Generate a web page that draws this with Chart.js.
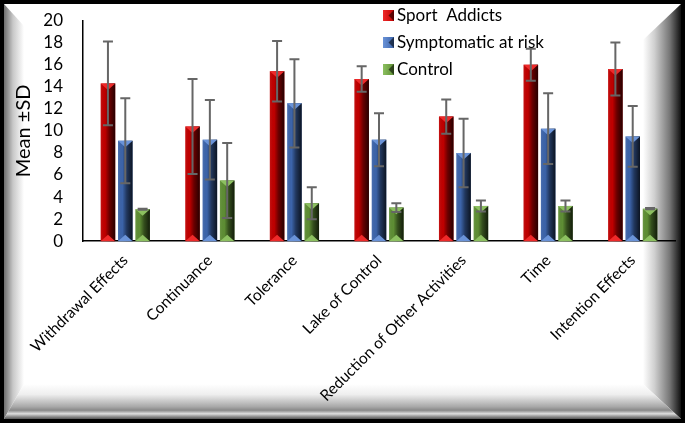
<!DOCTYPE html>
<html>
<head>
<meta charset="utf-8">
<script src="https://cdn.jsdelivr.net/npm/chart.js@4.4.0/dist/chart.umd.min.js"></script>
<style>
  body { margin:0; background:#000; }
  #wrap { position:relative; width:685px; height:423px; background:#000; overflow:hidden; }
  #frame { position:absolute; left:4px; top:4px; width:677px; height:415px; background:#fff; overflow:hidden; }
  .bev { position:absolute; }
  #bl { left:0; top:0; width:20px; height:100%;
        clip-path: polygon(0 0, 20px 22px, 20px calc(100% - 35px), 0 100%);
        background: linear-gradient(to right, #6e6e6e, #c8c8c8 45%, #fff); }
  #br { right:0; top:0; width:38px; height:100%;
        clip-path: polygon(100% 0, 100% 100%, 0 calc(100% - 35px), 0 36px);
        background: linear-gradient(to right, #fff, #d0d0d0 30%, #777 70%, #111); }
  #bb { left:0; bottom:0; width:100%; height:35px;
        clip-path: polygon(0 100%, 20px 0, calc(100% - 38px) 0, 100% 100%);
        background: linear-gradient(to bottom, #fff, #eee 30%, #a8a8a8 65%, #888 75%, #ddd 85%, #999 92%, #555); }
  canvas { position:absolute; left:0; top:0; }
</style>
</head>
<body>
<div id="wrap">
  <div id="frame">
    <div class="bev" id="bl"></div>
    <div class="bev" id="br"></div>
    <div class="bev" id="bb"></div>
  </div>
  <canvas id="chart" width="685" height="423"></canvas>
</div>
<script>
// DATA
let categories = ["Withdrawal Effects", "Continuance", "Tolerance", "Lake of Control",
                  "Reduction of Other Activities", "Time", "Intention Effects"];
let sport = [14.3, 10.4, 15.4, 14.7, 11.3, 16.0, 15.6];
let sportSd = [3.8, 4.3, 2.75, 1.15, 1.55, 1.45, 2.4];
let symptomatic = [9.1, 9.2, 12.5, 9.2, 8.0, 10.2, 9.5];
let symptomaticSd = [3.85, 3.6, 4.0, 2.4, 3.1, 3.2, 2.75];
let control = [2.9, 5.5, 3.45, 3.05, 3.2, 3.2, 2.95];
let controlSd = [0.05, 3.4, 1.45, 0.4, 0.5, 0.5, 0.05];
let yTicks = [0, 2, 4, 6, 8, 10, 12, 14, 16, 18, 20];

let sds = [sportSd, symptomaticSd, controlSd];
let lights = ["#ee2a2a", "#6a93d8", "#8cc060"];

const FONT = "Lato, 'Open Sans', sans-serif";

// 3D bar shading + error bars
const barStyle = {
  id: "barStyle",
  afterDatasetsDraw(chart){
    const c = chart.ctx;
    const y = chart.scales.y;
    chart.data.datasets.forEach((ds, d)=>{
      const meta = chart.getDatasetMeta(d);
      meta.data.forEach(el=>{
        const l = el.x - el.width/2, r = el.x + el.width/2;
        const g = c.createLinearGradient(l, 0, r, 0);
        g.addColorStop(0, "rgba(255,255,255,0.08)");
        g.addColorStop(0.3, "rgba(0,0,0,0)");
        g.addColorStop(0.6, "rgba(0,0,0,0.45)");
        g.addColorStop(1, "rgba(0,0,0,0.8)");
        c.save();
        c.fillStyle = g;
        c.fillRect(l, el.y, el.width, el.base - el.y);
        const t = Math.min(el.width*0.45, (el.base - el.y)/2);
        c.fillStyle = lights[d];
        c.beginPath();
        c.moveTo(l, el.y); c.lineTo(r, el.y); c.lineTo(el.x, el.y + t); c.closePath();
        c.fill();
        c.beginPath();
        c.moveTo(l, el.base); c.lineTo(r, el.base); c.lineTo(el.x, el.base - t); c.closePath();
        c.fill();
        c.restore();
      });
    });
    // error bars
    c.save();
    c.strokeStyle = "#666";
    c.lineWidth = 2;
    chart.data.datasets.forEach((ds, d)=>{
      const meta = chart.getDatasetMeta(d);
      meta.data.forEach((el, i)=>{
        const v = ds.data[i], s = sds[d][i];
        const top = y.getPixelForValue(v + s), bot = y.getPixelForValue(v - s);
        c.beginPath();
        c.moveTo(el.x, top); c.lineTo(el.x, bot);
        c.moveTo(el.x - 5, top); c.lineTo(el.x + 5, top);
        c.moveTo(el.x - 5, bot); c.lineTo(el.x + 5, bot);
        c.stroke();
      });
    });
    c.restore();
  }
};

// legend inside the plot
const legendBox = {
  id: "legendBox",
  afterDraw(chart){
    const c = chart.ctx;
    c.save();
    c.font = "17px " + FONT;
    c.textBaseline = "middle";
    chart.data.datasets.forEach((ds, d)=>{
      const yy = 16 + d*27;
      const g = c.createLinearGradient(383, 0, 394, 0);
      g.addColorStop(0, lights[d]);
      g.addColorStop(1, ds.backgroundColor);
      c.fillStyle = g;
      c.fillRect(383, yy - 6, 11, 11);
      c.fillStyle = "rgba(0,0,0,0.55)";
      c.beginPath();
      c.moveTo(394, yy - 6); c.lineTo(394, yy + 5); c.lineTo(388.5, yy - 0.5); c.closePath();
      c.fill();
      c.fillStyle = "#000";
      c.fillText(ds.label, 397, yy);
    });
    c.restore();
  }
};

new Chart(document.getElementById("chart"), {
  type: "bar",
  data: {
    labels: categories,
    datasets: [
      { label: "Sport  Addicts", data: sport, backgroundColor: "#c00000" },
      { label: "Symptomatic at risk", data: symptomatic, backgroundColor: "#3c64aa" },
      { label: "Control", data: control, backgroundColor: "#5e8e34" }
    ]
  },
  options: {
    responsive: false,
    animation: false,
    categoryPercentage: 0.615,
    barPercentage: 0.84,
    layout: { padding: { left: 11, right: 10, top: 20.5, bottom: 8 } },
    plugins: { legend: { display: false }, tooltip: { enabled: false } },
    scales: {
      x: {
        grid: { display: false, drawTicks: false },
        border: { color: "#000", width: 1.5 },
        ticks: { color: "#000", font: { family: FONT, size: 15.5 }, maxRotation: 45, minRotation: 45, padding: 10 },
        afterFit(scale){ scale.paddingLeft = 0; scale.paddingTop = 0; }
      },
      y: {
        min: 0, max: 20,
        afterBuildTicks(axis){ axis.ticks = yTicks.map(v=>({ value: v })); },
        afterFit(scale){ scale.width = 72; scale.paddingTop = 0; },
        grid: { display: false, drawTicks: false },
        border: { color: "#000", width: 1.5 },
        ticks: { color: "#000", font: { family: FONT, size: 17 }, padding: 20, autoSkip: false },
        title: { display: true, text: "Mean ±SD", color: "#000", font: { family: FONT, size: 20 }, padding: { top: 1, bottom: 7 } }
      }
    }
  },
  plugins: [barStyle, legendBox]
});
</script>
</body>
</html>
